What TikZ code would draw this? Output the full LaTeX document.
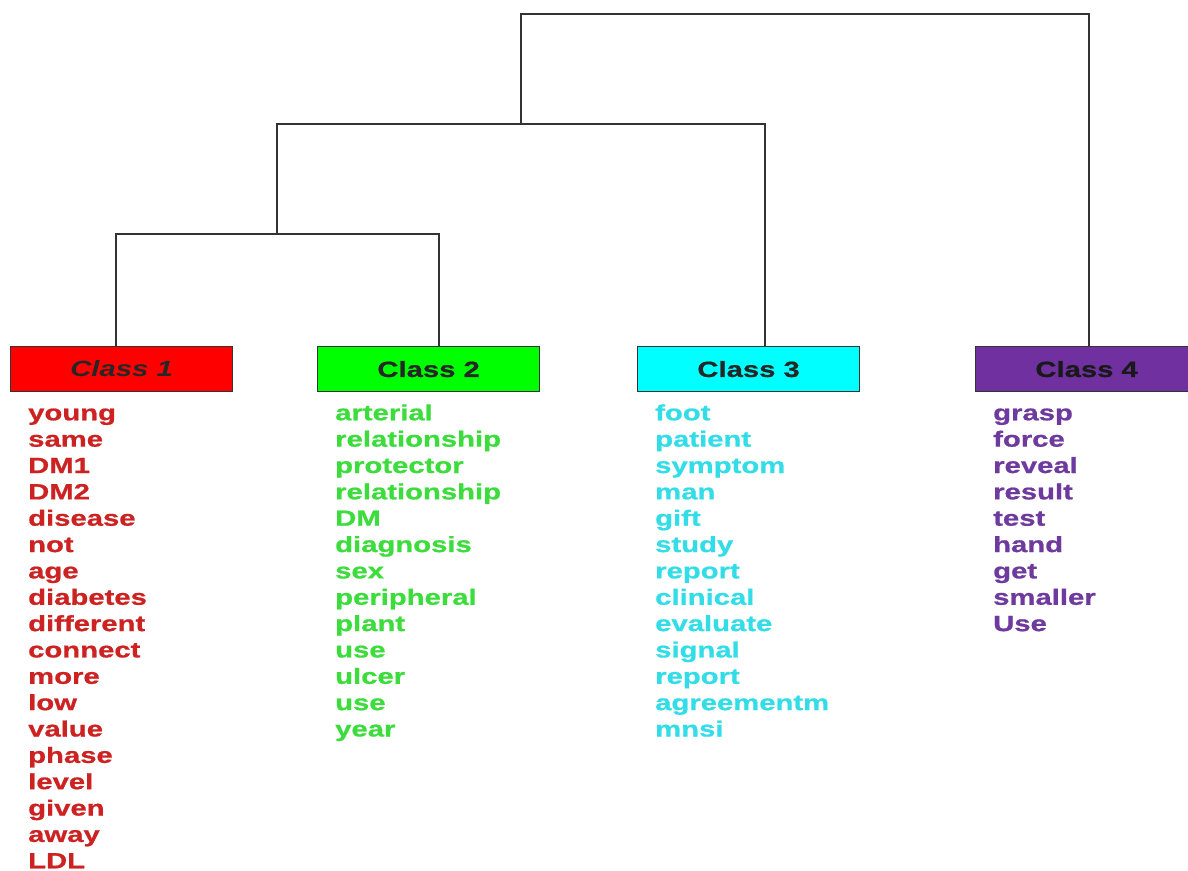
\documentclass[tikz,border=0pt]{standalone}
\usepackage{fontspec}
\setmainfont{Liberation Sans}[FakeStretch=1.33,BoldFeatures={FakeBold=0.8}]
\definecolor{boxred}{HTML}{FF0000}
\definecolor{boxgreen}{HTML}{00FF00}
\definecolor{boxcyan}{HTML}{00FFFF}
\definecolor{boxpurple}{HTML}{7030A0}
\definecolor{wordred}{HTML}{CC2222}
\definecolor{wordgreen}{HTML}{3CDC3C}
\definecolor{wordcyan}{HTML}{33DDE8}
\definecolor{wordpurple}{HTML}{6E3A9E}
\begin{document}
\begin{tikzpicture}[x=1pt,y=-1pt,
    classbox/.style={draw=black!80, line width=1.2pt, anchor=north west,
        minimum width=222pt, minimum height=45pt, inner sep=0pt,
        font=\bfseries\fontsize{22}{22}\selectfont, text=black!85},
    word/.style={anchor=base west, inner sep=0pt,
        font=\bfseries\fontsize{22}{22}\selectfont},
    link/.style={draw=black!80, line width=1.8pt}]
    \useasboundingbox (0,0) rectangle (1188,870);

    % Class boxes
    \node[classbox, fill=boxred] (c1) at (10,346) {\itshape Class 1};
    \node[classbox, fill=boxgreen] (c2) at (317,346) {Class 2};
    \node[classbox, fill=boxcyan] (c3) at (637,346) {Class 3};
    \node[classbox, fill=boxpurple, text=black!90] (c4) at (975,346) {Class 4};

    % Dendrogram joins
    \coordinate (a1) at (116,234);
    \coordinate (a2) at (439,234);
    \coordinate (b1) at (277,124);
    \coordinate (b2) at (765,124);
    \coordinate (d1) at (521,14);
    \coordinate (d2) at (1089,14);
    \draw[link] (c1.north -| a1) -- (a1) -- (a2) -- (c2.north -| a2);
    \draw[link] (a1 -| b1) -- (b1) -- (b2) -- (c3.north -| b2);
    \draw[link] (b1 -| d1) -- (d1) -- (d2) -- (c4.north -| d2);

    % Words of each class
    \foreach \w [count=\i from 0] in {young,same,DM1,DM2,disease,not,age,diabetes,different,connect,more,low,value,phase,level,given,away,LDL}
        \node[word, text=wordred] (c1w\i) at (28,420.3+26.35*\i) {\w};
    \foreach \w [count=\i from 0] in {arterial,relationship,protector,relationship,DM,diagnosis,sex,peripheral,plant,use,ulcer,use,year}
        \node[word, text=wordgreen] (c2w\i) at (335,420.3+26.35*\i) {\w};
    \foreach \w [count=\i from 0] in {foot,patient,symptom,man,gift,study,report,clinical,evaluate,signal,report,agreementm,mnsi}
        \node[word, text=wordcyan] (c3w\i) at (655,420.3+26.35*\i) {\w};
    \foreach \w [count=\i from 0] in {grasp,force,reveal,result,test,hand,get,smaller,Use}
        \node[word, text=wordpurple] (c4w\i) at (993,420.3+26.35*\i) {\w};
\end{tikzpicture}
\end{document}
